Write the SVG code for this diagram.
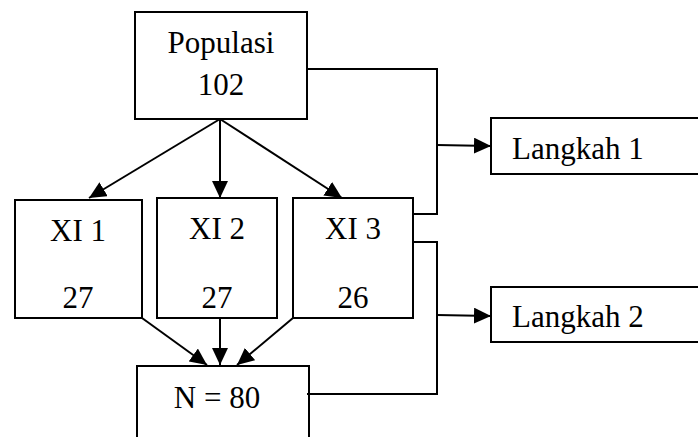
<svg xmlns="http://www.w3.org/2000/svg" width="698" height="437" viewBox="0 0 698 437">
  <style>
    .box { fill: #ffffff; stroke: #000000; stroke-width: 2; }
    .lbl { font-family: "Liberation Serif", "Times New Roman", serif; font-size: 31px; fill: #000000; }
    .wire { fill: none; stroke: #000000; stroke-width: 2; }
  </style>
  <defs>
    <marker id="head" markerUnits="userSpaceOnUse" markerWidth="18" markerHeight="16" refX="17" refY="8" orient="auto">
      <path d="M0,0 L17,8 L0,16 z" fill="#000000"/>
    </marker>
  </defs>

  <g id="populasi">
    <rect class="box" x="135" y="12" width="172" height="107"/>
    <text class="lbl" x="221" y="53" text-anchor="middle">Populasi</text>
    <text class="lbl" x="221" y="95" text-anchor="middle">102</text>
  </g>

  <g id="xi1">
    <rect class="box" x="15" y="200" width="127" height="118"/>
    <text class="lbl" x="78" y="241" text-anchor="middle">XI 1</text>
    <text class="lbl" x="78" y="308" text-anchor="middle">27</text>
  </g>

  <g id="xi2">
    <rect class="box" x="157" y="198" width="120" height="120"/>
    <text class="lbl" x="217" y="239" text-anchor="middle">XI 2</text>
    <text class="lbl" x="217" y="308" text-anchor="middle">27</text>
  </g>

  <g id="xi3">
    <rect class="box" x="293" y="198" width="120" height="120"/>
    <text class="lbl" x="353" y="239" text-anchor="middle">XI 3</text>
    <text class="lbl" x="353" y="308" text-anchor="middle">26</text>
  </g>

  <g id="sampel">
    <rect class="box" x="137" y="366" width="172" height="90"/>
    <text class="lbl" x="217" y="408" text-anchor="middle">N = 80</text>
  </g>

  <g id="langkah1">
    <rect class="box" x="491" y="118" width="210" height="56"/>
    <text class="lbl" x="512" y="159">Langkah 1</text>
  </g>

  <g id="langkah2">
    <rect class="box" x="491" y="287" width="210" height="55"/>
    <text class="lbl" x="512" y="327">Langkah 2</text>
  </g>

  <g id="connectors">
    <!-- population split into the three classes -->
    <line class="wire" x1="220" y1="119" x2="89" y2="198" marker-end="url(#head)"/>
    <line class="wire" x1="220" y1="119" x2="220" y2="198" marker-end="url(#head)"/>
    <line class="wire" x1="220" y1="119" x2="342" y2="198" marker-end="url(#head)"/>
    <!-- classes merged into the sample -->
    <line class="wire" x1="142" y1="318" x2="207" y2="365" marker-end="url(#head)"/>
    <line class="wire" x1="220" y1="318" x2="220" y2="365" marker-end="url(#head)"/>
    <line class="wire" x1="293" y1="318" x2="237" y2="365" marker-end="url(#head)"/>
    <!-- step 1 bracket -->
    <polyline class="wire" points="307,69 437,69 437,214 413,214"/>
    <line class="wire" x1="437" y1="145" x2="491" y2="146" marker-end="url(#head)"/>
    <!-- step 2 bracket -->
    <polyline class="wire" points="413,242 437,242 437,394 307,394"/>
    <line class="wire" x1="437" y1="315" x2="491" y2="316" marker-end="url(#head)"/>
  </g>
</svg>
